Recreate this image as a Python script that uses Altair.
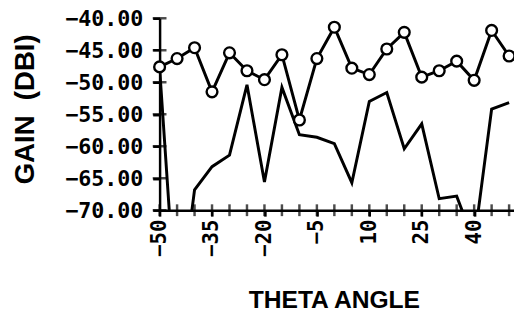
import altair as alt
import pandas as pd

# ---- data ----
theta = [-50, -45, -40, -35, -30, -25, -20, -15, -10, -5, 0,
         5, 10, 15, 20, 25, 30, 35, 40, 45, 50]
gain_circles = [-47.6, -46.3, -44.6, -51.5, -45.4, -48.2, -49.6, -45.7, -55.9, -46.3, -41.4,
                -47.8, -48.8, -44.8, -42.2, -49.2, -48.2, -46.7, -49.7, -41.9, -45.9]
gain_line = [-47.8, -88.0, -66.8, -63.2, -61.4, -50.4, -65.6, -50.8, -58.2, -58.6, -59.6,
             -65.7, -53.0, -51.6, -60.4, -56.5, -68.2, -67.8, -75.0, -54.2, -53.2]

y_ticks = [-70, -65, -60, -55, -50, -45, -40]
x_ticks = [-50, -45, -40, -35, -30, -25, -20, -15, -10, -5, 0, 5, 10, 15, 20, 25, 30, 35, 40, 45, 50]
x_labels = [-50, -35, -20, -5, 10, 25, 40]

W, H = 360, 195
X_DOMAIN = [-50, 51.4]
Y_DOMAIN = [-70, -40]

df_c = pd.DataFrame({"theta": theta, "gain": gain_circles})
df_l = pd.DataFrame({"theta": theta, "gain": gain_line})
df_yt = pd.DataFrame({"gain": y_ticks})
df_xt = pd.DataFrame({"theta": x_ticks})

LABEL_FONT = "DejaVu Sans Mono"
TITLE_FONT = "Liberation Sans"

xs = alt.Scale(domain=X_DOMAIN, nice=False, zero=False)
ys = alt.Scale(domain=Y_DOMAIN, nice=False, zero=False)

x_axis = alt.Axis(
    values=x_labels, title="THETA ANGLE", labelAngle=270, labelFont=LABEL_FONT,
    labelFontSize=21, labelFontWeight="bold", labelColor="black", labelPadding=3,
    tickSize=6, tickWidth=2.5,
    tickColor="black", domainColor="black", domainWidth=2.5, grid=False,
    titleFont=TITLE_FONT, titleFontSize=25, titleFontWeight="bold", titleColor="black",
    titleX=177, titleY=104, titleBaseline="bottom", titleAlign="center",
    labelOverlap=False, labelFlush=False,
)
y_axis = alt.Axis(
    values=y_ticks, format=".2f", title="GAIN\u00a0\u00a0(DBI)", labelFont=LABEL_FONT,
    labelFontSize=22, labelFontWeight="bold", labelColor="black", labelPadding=10,
    tickSize=7, tickWidth=2.5,
    tickColor="black", domainColor="black", domainWidth=2.5, grid=False,
    titleFont=TITLE_FONT, titleFontSize=28, titleFontWeight="bold", titleColor="black",
    titleAngle=270, titleX=-136, titleY=92, titleAlign="center", titleBaseline="middle",
    labelOverlap=False, labelFlush=False,
)

X = alt.X("theta:Q", scale=xs, axis=x_axis)
Y = alt.Y("gain:Q", scale=ys, axis=y_axis)

line_low = alt.Chart(df_l).mark_line(color="black", strokeWidth=3, clip=True).encode(x=X, y=Y)
line_up = alt.Chart(df_c).mark_line(color="black", strokeWidth=3, clip=True).encode(x=X, y=Y)
pts = alt.Chart(df_c).mark_point(
    shape="circle", filled=True, fill="white", stroke="black", strokeWidth=2.4,
    size=120, opacity=1,
).encode(x=X, y=Y)
yt = alt.Chart(df_yt).mark_tick(orient="horizontal", color="black", thickness=2.5, size=14).encode(
    y=Y, x=alt.value(0),
)
xt = alt.Chart(df_xt).mark_tick(orient="vertical", color="black", thickness=2.5, size=12).encode(
    x=X, y=alt.value(H),
)

chart = alt.layer(line_low, line_up, pts, yt, xt).properties(
    width=W, height=H,
    autosize=alt.AutoSizeParams(type="none"),
    padding={"left": 154, "top": 8, "right": 0, "bottom": 104},
    background="white",
).configure_view(stroke=None)

chart.save("out.html", embed_options={"renderer": "svg", "actions": False})
